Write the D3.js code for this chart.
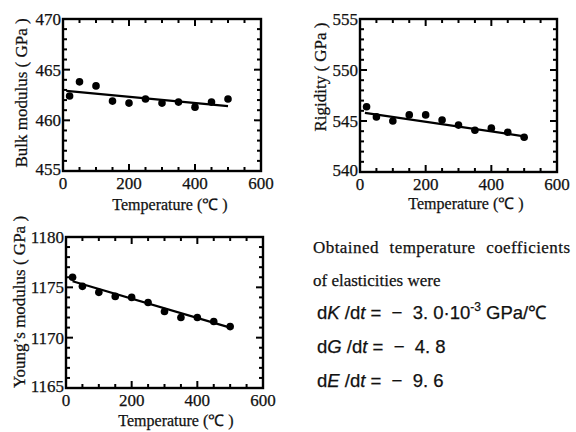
<!DOCTYPE html>
<html>
<head>
<meta charset="utf-8">
<script src="https://cdn.jsdelivr.net/npm/d3@7"></script>
<style>
  html, body { margin: 0; padding: 0; background: #fff; }
  svg { display: block; }
  text { fill: #111; stroke: #111; stroke-width: 0.25px; }
</style>
</head>
<body>
<div class="chart"></div>
<script>
(function () {
    'use strict';

    /* adatok */
    const temps = [20, 50, 100, 150, 200, 250, 300, 350, 400, 450, 500];
    const bulkValues = [462.4, 463.8, 463.4, 461.9, 461.7, 462.1, 461.7, 461.8, 461.3, 461.8, 462.1];
    const rigidityValues = [546.4, 545.4, 545.0, 545.6, 545.6, 545.1, 544.6, 544.1, 544.3, 543.9, 543.4];
    const youngValues = [1176.0, 1175.1, 1174.5, 1174.1, 1174.0, 1173.5, 1172.6, 1172.0, 1172.0, 1171.6, 1171.1];
    const bulkFit = [[10, 462.9], [500, 461.4]];
    const rigidityFit = [[15, 545.8], [500, 543.5]];
    const youngFit = [[20, 1175.6], [500, 1171.0]];
    const tempTicks = [0, 200, 400, 600];

    const svg = d3.select('.chart').append('svg')
        .attr('width', 576)
        .attr('height', 432);

    const serif = '"Liberation Serif", "Times New Roman", serif';

    const panels = [
        {box: [63, 19, 261, 171], yDomain: [455, 470], yTicks: [455, 460, 465, 470], values: bulkValues, fit: bulkFit,
            yTitle: 'Bulk modulus ( GPa )', yTitlePos: [27, 93], xTitlePos: [170, 210]},
        {box: [360, 19, 557, 172], yDomain: [540, 555], yTicks: [540, 545, 550, 555], values: rigidityValues, fit: rigidityFit,
            yTitle: 'Rigidity ( GPa )', yTitlePos: [326, 77], xTitlePos: [466, 209]},
        {box: [66, 237, 263, 388], yDomain: [1165, 1180], yTicks: [1165, 1170, 1175, 1180], values: youngValues, fit: youngFit,
            yTitle: 'Young\u2019s modulus ( GPa )', yTitlePos: [25, 302], xTitlePos: [176, 426]}
    ];

    panels.forEach(function (p) {
        const x = d3.scaleLinear().domain([0, 600]).range([p.box[0], p.box[2]]);
        const y = d3.scaleLinear().domain(p.yDomain).range([p.box[3], p.box[1]]);
        const g = svg.append('g');

        /* tengelyek: kis és nagy osztások mind a négy oldalon, befelé */
        const xMinor = d3.range(0, 601, 50);
        const yMinor = d3.range(p.yDomain[0], p.yDomain[1] + 0.01, 1);
        const tickG = g.append('g').attr('stroke', '#000').attr('stroke-width', 2);

        xMinor.forEach(function (t) {
            const len = t % 200 === 0 ? 7 : 4;
            tickG.append('line').attr('x1', x(t)).attr('x2', x(t))
                .attr('y1', y.range()[0]).attr('y2', y.range()[0] - len);
            tickG.append('line').attr('x1', x(t)).attr('x2', x(t))
                .attr('y1', y.range()[1]).attr('y2', y.range()[1] + len);
        });
        yMinor.forEach(function (t) {
            const len = Math.round(t) % 5 === 0 ? 7 : 4;
            tickG.append('line').attr('y1', y(t)).attr('y2', y(t))
                .attr('x1', x.range()[0]).attr('x2', x.range()[0] + len);
            tickG.append('line').attr('y1', y(t)).attr('y2', y(t))
                .attr('x1', x.range()[1]).attr('x2', x.range()[1] - len);
        });

        g.append('rect')
            .attr('x', x.range()[0]).attr('y', y.range()[1])
            .attr('width', x.range()[1] - x.range()[0])
            .attr('height', y.range()[0] - y.range()[1])
            .attr('fill', 'none').attr('stroke', '#000').attr('stroke-width', 2.4);

        g.selectAll('.xl').data(tempTicks).enter().append('text')
            .attr('x', function (d) { return x(d); })
            .attr('y', y.range()[0] + 18)
            .attr('text-anchor', 'middle')
            .style('font-family', serif).style('font-size', '17px')
            .text(function (d) { return d; });

        g.selectAll('.yl').data(p.yTicks).enter().append('text')
            .attr('x', x.range()[0] - 2)
            .attr('y', function (d, i) { return y(d) - (i === 0 ? 2 : 0); })
            .attr('dy', '0.35em')
            .attr('text-anchor', 'end')
            .style('font-family', serif).style('font-size', '17px')
            .text(function (d) { return d; });

        /* illesztett egyenes */
        g.append('line')
            .attr('x1', x(p.fit[0][0])).attr('y1', y(p.fit[0][1]))
            .attr('x2', x(p.fit[1][0])).attr('y2', y(p.fit[1][1]))
            .attr('stroke', '#000').attr('stroke-width', 2.2);

        /* mérési pontok */
        g.selectAll('.pt').data(temps).enter().append('circle')
            .attr('cx', function (d) { return x(d); })
            .attr('cy', function (d, i) { return y(p.values[i]); })
            .attr('r', 3.8)
            .attr('fill', '#000');

        /* tengelyfeliratok */
        g.append('text')
            .attr('transform', 'translate(' + p.yTitlePos[0] + ',' + p.yTitlePos[1] + ') rotate(-90)')
            .attr('text-anchor', 'middle')
            .style('font-family', serif).style('font-size', '17px')
            .text(p.yTitle);

        g.append('text')
            .attr('x', p.xTitlePos[0]).attr('y', p.xTitlePos[1])
            .attr('text-anchor', 'middle')
            .style('font-family', serif).style('font-size', '16px')
            .text('Temperature  (\u2103 )');
    });

    /* szöveges blokk */
    const note = svg.append('g');
    note.append('text')
        .attr('x', 313).attr('y', 253)
        .attr('textLength', 257).attr('lengthAdjust', 'spacing')
        .style('font-family', serif).style('font-size', '17px').style('word-spacing', '6px')
        .text('Obtained temperature coefficients');
    note.append('text')
        .attr('x', 313).attr('y', 286)
        .style('font-family', serif).style('font-size', '17px')
        .text('of elasticities were');

    const sans = '"Liberation Sans Narrow", "Liberation Sans", sans-serif';
    const eqs = [
        {v: 'K', rest: '\u2212  3. 0\u00b710', sup: '-3', tail: ' GPa/\u2103', y: 319},
        {v: 'G', rest: '\u2212  4. 8', sup: '', tail: '', y: 353},
        {v: 'E', rest: '\u2212  9. 6', sup: '', tail: '', y: 387}
    ];
    eqs.forEach(function (e) {
        const t = note.append('text')
            .attr('transform', 'translate(317,' + e.y + ')')
            .style('font-family', sans).style('font-size', '18.5px')
            .attr('xml:space', 'preserve');
        t.append('tspan').text('d');
        t.append('tspan').style('font-style', 'italic').text(e.v);
        t.append('tspan').text(' /d');
        t.append('tspan').style('font-style', 'italic').text('t');
        t.append('tspan').text(' =  ' + e.rest);
        if (e.sup) {
            t.append('tspan').attr('dy', -8).style('font-size', '12px').text(e.sup);
            t.append('tspan').attr('dy', 8).text(e.tail);
        }
    });
}());
</script>
</body>
</html>
